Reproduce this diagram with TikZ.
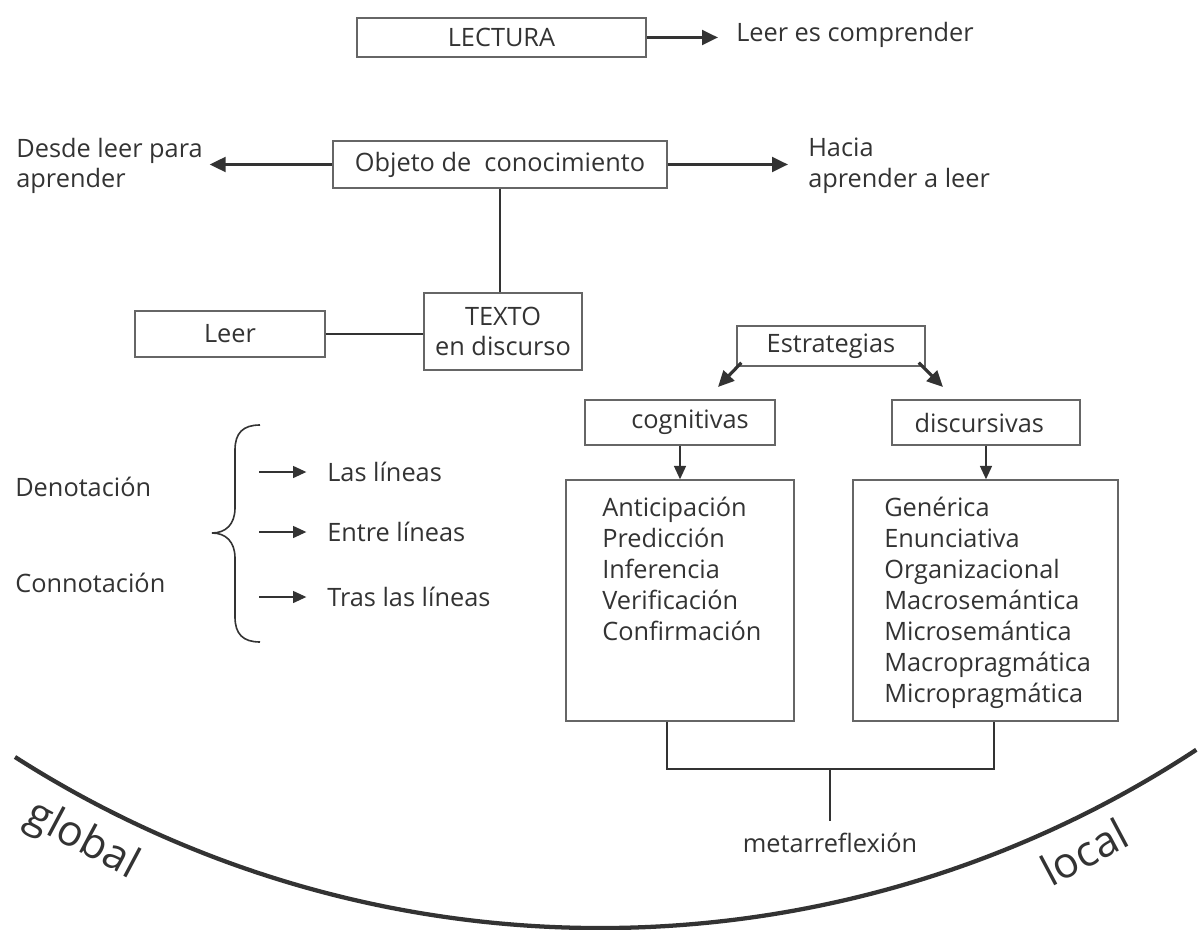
\documentclass[tikz,border=0pt]{standalone}
\usepackage{fontspec}
\setmainfont{Open Sans}
\usetikzlibrary{arrows.meta}
\definecolor{ink}{gray}{0.2}
\definecolor{rim}{gray}{0.4}

\begin{document}
\begin{tikzpicture}[x=0.75pt,y=-0.75pt,color=ink,
    every node/.style={text=ink,font=\fontsize{19}{23}\selectfont},
    box/.style={draw=rim,line width=1.1pt,inner sep=0pt,align=center},
    lbl/.style={inner sep=0pt,align=left},
    big/.style={font=\fontsize{32}{38}\selectfont},
    fat/.style={line width=2.4pt,-{Triangle[length=12pt,width=11pt]}},
    slim/.style={line width=1.1pt,-{Triangle[length=10pt,width=9pt]}},
    joint/.style={line width=1.4pt}]
  \useasboundingbox (0,0) rectangle (1199,930);
  \def\bx(#1)(#2,#3)(#4,#5)#6{%
    \node[box,minimum width={(#4-#2)*0.75pt},minimum height={(#5-#3)*0.75pt}]
      (#1) at ({(#2+#4)/2},{(#3+#5)/2}) {#6};}

  % top
  \bx(lectura)(357,18)(646,57){LECTURA}
  \node[lbl,anchor=west] (comprender) at (736,35) {Leer es comprender};
  \draw[fat,shorten >=13.5pt] (lectura) -- (lectura -| comprender.west);

  \bx(objeto)(333,141)(667,188){Objeto de\ \ conocimiento}
  \node[lbl,anchor=east] (desde) at (203,166) {Desde leer para\\aprender};
  \node[lbl,anchor=west] (hacia) at (808,166) {Hacia\\aprender a leer};
  \draw[fat,shorten >=5pt] (objeto.west) -- (objeto.west -| desde.east);
  \draw[fat,shorten >=15pt] (objeto.east) -- (objeto.east -| hacia.west);

  \bx(texto)(424,293)(582,370){TEXTO\\en discurso}
  \bx(leer)(135,311)(325,357){Leer}
  \draw[joint] (objeto) -- (objeto |- texto.north);
  \draw[joint] (leer) -- (leer -| texto.west);

  % estrategias
  \bx(estr)(737,326)(925,366){Estrategias}
  \bx(cogn)(585,400)(775,445){\hspace*{15pt}cognitivas}
  \bx(disc)(892,400)(1080,445){discursivas\hspace*{10pt}}
  \coordinate (tipl) at (718,387);
  \coordinate (tipr) at (943,387);
  \draw[fat] ([shift={(5,-4)}]estr.south west) -- (tipl);
  \draw[fat] ([shift={(-7,-4)}]estr.south east) -- (tipr);

  \bx(clist)(566,480)(794,721){}
  \bx(dlist)(853,480)(1118,721){}
  \draw[slim] (cogn) -- (clist);
  \draw[slim] (disc) -- (disc |- dlist.north);
  \foreach \t [count=\i] in {Anticipación,Predicción,Inferencia,Verificación,Confirmación}
    \node[lbl,anchor=base west] (c\i) at (602,{485+31*\i}) {\t};
  \foreach \t [count=\i] in {Genérica,Enunciativa,Organizacional,Macrosemántica,
      Microsemántica,Macropragmática,Micropragmática}
    \node[lbl,anchor=base west] (d\i) at (884,{485+31*\i}) {\t};

  % metarreflexion
  \coordinate (ml) at (667,769);
  \coordinate (mr) at (994,769);
  \node[lbl] (meta) at (830,843) {metarreflexión};
  \draw[joint] (clist.south -| ml) -- (ml) -- (mr) -- (dlist.south -| mr);
  \draw[joint,shorten >=9pt] (ml -| meta) -- (meta.north);

  % lineas
  \draw[line width=1.2pt] (260,425) .. controls (243,425) and (235,433) .. (235,450)
    -- (235,508) .. controls (235,524) and (226,533) .. (212,533)
    .. controls (226,533) and (235,542) .. (235,558)
    -- (235,617) .. controls (235,634) and (243,642) .. (260,642);
  \foreach \y/\t [count=\i] in {472/Las líneas,532/Entre líneas,597/Tras las líneas}{
    \coordinate (s\i) at (259,\y);
    \node[lbl,anchor=west] (t\i) at (327,\y) {\t};
    \draw[slim,shorten >=15.5pt] (s\i) -- (t\i);
  }
  \node[lbl,anchor=west] (deno) at (15,487) {Denotación};
  \node[lbl,anchor=west] (conno) at (15,583) {Connotación};

  % global / local
  \draw[line width=3.2pt] (15,757) arc[start angle=122.6,end angle=56.7,radius=1086];
  \node[lbl,big,anchor=north,rotate=-28] (global) at (92,822) {global};
  \node[lbl,big,anchor=north,rotate=28] (local) at (1076,837) {local};
\end{tikzpicture}
\end{document}
